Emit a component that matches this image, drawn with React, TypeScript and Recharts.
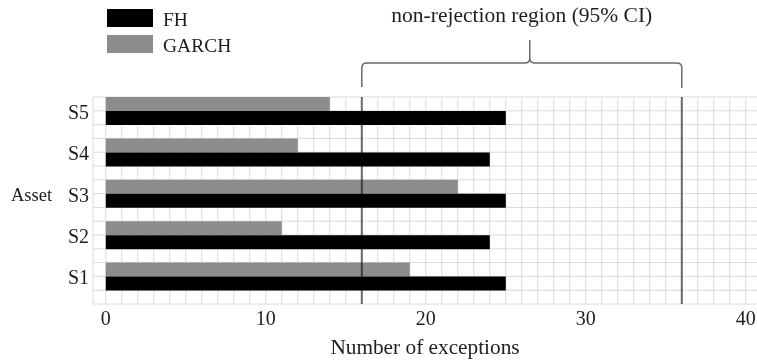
import React from 'react';
import {
  BarChart,
  Bar,
  XAxis,
  YAxis,
  CartesianGrid,
  ReferenceLine,
  ReferenceArea,
  Legend,
} from 'recharts';

const categories = ['S1', 'S2', 'S3', 'S4', 'S5'];
const fhValues = [25, 24, 25, 24, 25];
const garchValues = [19, 11, 22, 12, 14];
const spacerValues = [0, 0, 0, 0, 0];
const xTicks = [0, 10, 20, 30, 40];
const xDomain: [number, number] = [-0.8, 40.7];
const gridUnits = [
  0, 1, 2, 3, 4, 5, 6, 7, 8, 9, 10, 11, 12, 13, 14, 15, 16, 17, 18, 19, 20,
  21, 22, 23, 24, 25, 26, 27, 28, 29, 30, 31, 32, 33, 34, 35, 36, 37, 38, 39, 40,
];
const regionBounds = [16, 36];
const regionLabel = 'non-rejection region (95% CI)';
const seriesNames = ['FH', 'GARCH'];
const xAxisTitle = 'Number of exceptions';
const yAxisTitle = 'Asset';

const data = categories.map((c, i) => ({
  asset: c,
  FH: fhValues[i],
  GARCH: garchValues[i],
  spacer: spacerValues[i],
}));

const FONT = "'Liberation Serif', 'Times New Roman', serif";
const TEXT = '#1e1e1e';
const GRAY = '#8c8c8c';

const YTick = (props: any) => {
  const { x, y, payload } = props;
  return (
    <text
      x={x}
      y={y - 6}
      dy="0.35em"
      textAnchor="end"
      fontFamily={FONT}
      fontSize={20}
      fill={TEXT}
    >
      {payload.value}
    </text>
  );
};

const XTick = (props: any) => {
  const { x, y, payload } = props;
  return (
    <text
      x={x}
      y={y + 21}
      textAnchor="middle"
      fontFamily={FONT}
      fontSize={20}
      fill={TEXT}
    >
      {payload.value}
    </text>
  );
};

const LegendContent = () => (
  <svg width={260} height={60} style={{ display: 'block' }}>
    <rect x={107} y={9} width={46} height={18} fill="#000" />
    <text x={163} y={26} fontFamily={FONT} fontSize={19.5} fill={TEXT}>
      {seriesNames[0]}
    </text>
    <rect x={107} y={35} width={46} height={18} fill={GRAY} />
    <text x={163} y={52} fontFamily={FONT} fontSize={19.5} fill={TEXT}>
      {seriesNames[1]}
    </text>
  </svg>
);

const BraceShape = (props: any) => {
  const { x, y, width } = props;
  const x1 = x;
  const x2 = x + width;
  const peak = x + width * 0.525;
  const mid = x + width / 2;
  const yb = y - 10;
  const yh = y - 34;
  const yp = y - 57;
  const r = 5;
  const d = [
    `M ${x1} ${yb}`,
    `L ${x1} ${yh + r}`,
    `Q ${x1} ${yh} ${x1 + r} ${yh}`,
    `L ${peak - r} ${yh}`,
    `Q ${peak} ${yh} ${peak} ${yh - r}`,
    `L ${peak} ${yp}`,
    `M ${peak} ${yh - r}`,
    `Q ${peak} ${yh} ${peak + r} ${yh}`,
    `L ${x2 - r} ${yh}`,
    `Q ${x2} ${yh} ${x2} ${yh + r}`,
    `L ${x2} ${yb + 1}`,
  ].join(' ');
  return (
    <g>
      <path d={d} fill="none" stroke="#6a6a6a" strokeWidth={1.5} />
      <text
        x={mid}
        y={y - 75}
        textAnchor="middle"
        fontFamily={FONT}
        fontSize={21.5}
        fill={TEXT}
      >
        {regionLabel}
      </text>
    </g>
  );
};

const RefLineShape = (props: any) => {
  const { x1, y1, x2, y2 } = props;
  return (
    <line
      x1={x1}
      y1={y1}
      x2={x2}
      y2={y2}
      stroke="#707070"
      strokeWidth={2}
      style={{ mixBlendMode: 'multiply' }}
    />
  );
};

const verticalGen = (props: any) => {
  const { xAxis, offset } = props;
  const s =
    xAxis && typeof xAxis.scale === 'function'
      ? (v: number) => xAxis.scale(v)
      : (v: number) =>
          offset.left +
          ((v - xDomain[0]) / (xDomain[1] - xDomain[0])) * offset.width;
  return [offset.left, ...gridUnits.map((v) => s(v))];
};

const horizontalGen = (props: any) => {
  const { offset } = props;
  const rows = categories.length * 3;
  const out: number[] = [];
  for (let k = 0; k <= rows; k++) out.push(offset.top + (k * offset.height) / rows);
  return out;
};

export default function App() {
  return (
    <div style={{ position: 'absolute', left: 0, top: 0, background: '#fff' }}>
      <BarChart
        width={757}
        height={364}
        data={data}
        layout="vertical"
        margin={{ top: 97, right: 0, bottom: 0, left: 0 }}
        barCategoryGap={0}
        barGap={0}
      >
        <CartesianGrid
          stroke="#dadada"
          strokeWidth={1}
          verticalCoordinatesGenerator={verticalGen}
          horizontalCoordinatesGenerator={horizontalGen}
        />
        <XAxis
          type="number"
          domain={xDomain}
          ticks={xTicks}
          axisLine={false}
          tickLine={false}
          tickSize={0}
          tickMargin={0}
          height={60}
          tick={<XTick />}
          label={({ viewBox }: any) => (
            <text
              x={viewBox.x + viewBox.width / 2}
              y={354}
              textAnchor="middle"
              fontFamily={FONT}
              fontSize={21.3}
              fill={TEXT}
            >
              {xAxisTitle}
            </text>
          )}
        />
        <YAxis
          type="category"
          dataKey="asset"
          reversed
          width={93}
          axisLine={false}
          tickLine={false}
          tickSize={0}
          tickMargin={4}
          tick={<YTick />}
          label={({ viewBox }: any) => (
            <text
              x={11}
              y={viewBox.y + viewBox.height / 2 - 6}
              dy="0.35em"
              textAnchor="start"
              fontFamily={FONT}
              fontSize={18.5}
              fill={TEXT}
            >
              {yAxisTitle}
            </text>
          )}
        />
        <Legend
          layout="vertical"
          align="center"
          verticalAlign="middle"
          wrapperStyle={{ left: 0, top: 0, width: 260, height: 60 }}
          content={<LegendContent />}
        />
        <Bar dataKey="GARCH" fill={GRAY} isAnimationActive={false} />
        <Bar dataKey="FH" fill="#000" isAnimationActive={false} />
        <Bar dataKey="spacer" fill="transparent" isAnimationActive={false} legendType="none" />
        <ReferenceLine x={regionBounds[0]} shape={<RefLineShape />} />
        <ReferenceLine x={regionBounds[1]} shape={<RefLineShape />} />
        <ReferenceArea
          x1={regionBounds[0]}
          x2={regionBounds[1]}
          shape={<BraceShape />}
        />
      </BarChart>
    </div>
  );
}
